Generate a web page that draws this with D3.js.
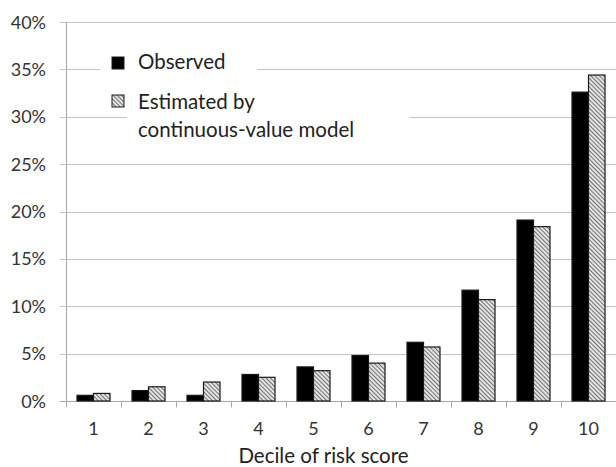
<!DOCTYPE html>
<html>
<head>
<meta charset="utf-8">
<style>
  body { margin: 0; background: #fff; }
  svg { display: block; font-family: Lato, 'Open Sans', sans-serif; }
  .grid line { stroke: #c4c4c4; stroke-width: 1; }
  .tick-label { font-size: 18px; fill: #333; }
</style>
</head>
<body>
<svg width="616" height="467"></svg>
<script src="https://d3js.org/d3.v7.min.js"></script>
<script>
  // data (share of cases, per decile)
  const deciles = ["1", "2", "3", "4", "5", "6", "7", "8", "9", "10"];
  const observed = [0.006, 0.011, 0.006, 0.028, 0.036, 0.048, 0.062, 0.117, 0.191, 0.326];
  const estimated = [0.008, 0.015, 0.020, 0.025, 0.032, 0.040, 0.057, 0.107, 0.184, 0.344];
  const yTicks = [0, 0.05, 0.10, 0.15, 0.20, 0.25, 0.30, 0.35, 0.40];
  const seriesNames = ["Observed", "Estimated"];

  const margin = { top: 22, right: 0, bottom: 66, left: 66 };
  const width = 616, height = 467;

  const svg = d3.select("svg");

  // hatch pattern for the estimated bars
  const defs = svg.append("defs");
  const pat = defs.append("pattern")
    .attr("id", "hatch")
    .attr("patternUnits", "userSpaceOnUse")
    .attr("width", 3).attr("height", 3)
    .attr("patternTransform", "rotate(-45)");
  pat.append("rect").attr("width", 3).attr("height", 3).attr("fill", "#e3e3e3");
  pat.append("line").attr("x1", 0).attr("y1", 0).attr("x2", 0).attr("y2", 3)
    .attr("stroke", "#555").attr("stroke-width", 1.6);

  const x = d3.scaleBand()
    .domain(deciles)
    .range([margin.left, width - margin.right])
    .padding(0);

  const x1 = d3.scaleBand()
    .domain(seriesNames)
    .range([x.bandwidth() * 0.2, x.bandwidth() * 0.8]);

  const y = d3.scaleLinear()
    .domain([0, 0.4])
    .range([height - margin.bottom, margin.top]);

  // gridlines + y labels
  const grid = svg.append("g").attr("class", "grid");
  grid.selectAll("line")
    .data(yTicks)
    .join("line")
    .attr("x1", margin.left - 6)
    .attr("x2", width - margin.right)
    .attr("y1", d => Math.round(y(d)) + 0.5)
    .attr("y2", d => Math.round(y(d)) + 0.5);

  svg.append("g")
    .selectAll("text")
    .data(yTicks)
    .join("text")
    .attr("class", "tick-label")
    .attr("x", margin.left - 20)
    .attr("y", d => y(d) + 6.5)
    .attr("text-anchor", "end")
    .text(d => d3.format(".0%")(d));

  // y axis line
  svg.append("line")
    .attr("x1", margin.left + 0.5).attr("x2", margin.left + 0.5)
    .attr("y1", margin.top).attr("y2", height - margin.bottom + 6)
    .attr("stroke", "#a8a8a8");

  // x axis
  const xAxis = svg.append("g")
    .attr("transform", `translate(0,${Math.round(y(0)) + 0.5})`);
  xAxis.append("line")
    .attr("x1", margin.left - 6).attr("x2", width)
    .attr("stroke", "#a8a8a8");
  xAxis.selectAll(".tk")
    .data(deciles)
    .join("line")
    .attr("class", "tk")
    .attr("x1", d => Math.round(x(d) + x.bandwidth()) + 0.5)
    .attr("x2", d => Math.round(x(d) + x.bandwidth()) + 0.5)
    .attr("y1", 0).attr("y2", 6)
    .attr("stroke", "#a8a8a8");
  xAxis.selectAll("text")
    .data(deciles)
    .join("text")
    .attr("class", "tick-label")
    .attr("x", d => x(d) + x.bandwidth() / 2)
    .attr("y", 33)
    .attr("text-anchor", "middle")
    .text(d => d);

  svg.append("text")
    .attr("x", 323.5)
    .attr("y", 463)
    .attr("text-anchor", "middle")
    .attr("font-size", "20.5px")
    .attr("fill", "#222")
    .text("Decile of risk score");

  // bars
  const rows = deciles.map((d, i) => ({ decile: d, Observed: observed[i], Estimated: estimated[i] }));

  svg.append("g")
    .selectAll("g")
    .data(rows)
    .join("g")
    .attr("transform", d => `translate(${x(d.decile)},0)`)
    .selectAll("rect")
    .data(d => seriesNames.map(k => ({ key: k, value: d[k] })))
    .join("rect")
    .attr("x", d => x1(d.key))
    .attr("width", x1.bandwidth())
    .attr("y", d => y(d.value))
    .attr("height", d => y(0) - y(d.value))
    .attr("fill", d => d.key === "Observed" ? "#000" : "url(#hatch)")
    .attr("stroke", "#1a1a1a")
    .attr("stroke-width", 1.2);

  // legend (white boxes hide the gridlines behind it)
  const legend = svg.append("g");
  legend.append("rect").attr("x", 100).attr("y", 48).attr("width", 157).attr("height", 30).attr("fill", "#fff");
  legend.append("rect").attr("x", 127).attr("y", 88).attr("width", 283).attr("height", 56).attr("fill", "#fff");

  legend.append("rect").attr("x", 112).attr("y", 57).attr("width", 12).attr("height", 12)
    .attr("fill", "#000").attr("stroke", "#1a1a1a");
  legend.append("rect").attr("x", 112).attr("y", 95).attr("width", 12).attr("height", 12)
    .attr("fill", "url(#hatch)").attr("stroke", "#1a1a1a");

  legend.append("text").attr("x", 138).attr("y", 69)
    .attr("font-size", "20.5px").attr("fill", "#222").text("Observed");
  const est = legend.append("text").attr("x", 138).attr("y", 108.5)
    .attr("font-size", "20.5px").attr("fill", "#222");
  est.append("tspan").attr("x", 138).text("Estimated by");
  est.append("tspan").attr("x", 138).attr("dy", 28).text("continuous-value model");
</script>
</body>
</html>
